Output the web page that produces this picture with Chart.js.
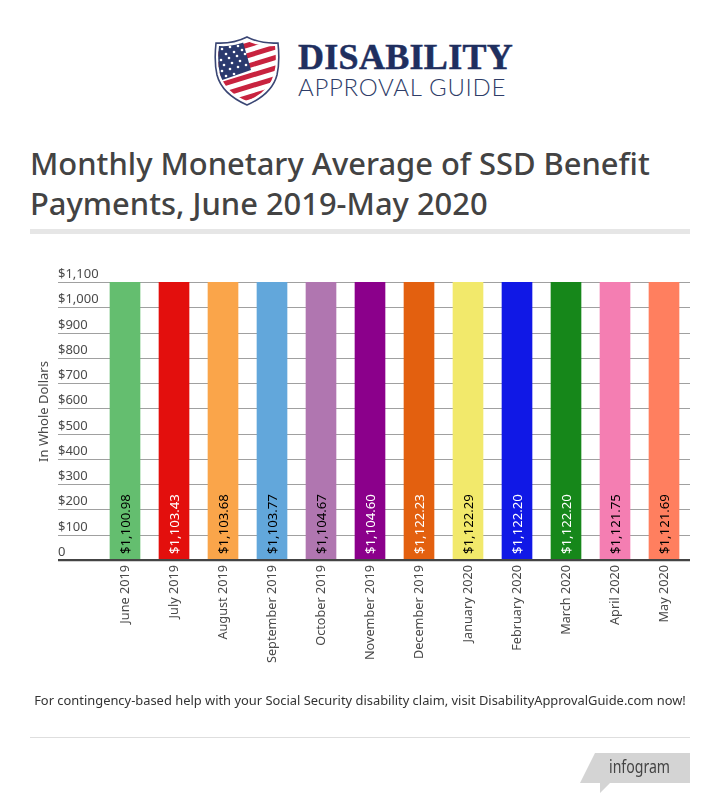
<!DOCTYPE html>
<html>
<head>
<meta charset="utf-8">
<script src="https://cdn.jsdelivr.net/npm/chart.js@4"></script>
<style>
  html, body { margin: 0; padding: 0; background: #fff; }
  body { width: 720px; height: 809px; position: relative; overflow: hidden; font-family: "Noto Sans", sans-serif; }
  #chartWrap { position: absolute; left: 0; top: 0; width: 720px; height: 809px; }
  .abs { position: absolute; }
  #title { left: 30px; top: 143px; width: 660px; font-size: 30.9px; line-height: 40px; font-weight: 500; color: #434343; }
  #titleRule { left: 30px; top: 229px; width: 660px; height: 5px; background: #e6e6e6; }
  #footnote { left: 0; width: 720px; top: 691px; text-align: center; font-size: 12.9px; color: #333; }
  #footRule { left: 30px; top: 737px; width: 660px; height: 1px; background: #dedede; }
</style>
</head>
<body>
<svg class="abs" style="left:0;top:0" width="720" height="130">
  <defs>
    <clipPath id="shield"><path d="M247 41 Q234 47 219 46 Q217 62 220 74 Q225 92 247 101 Q269 92 274 74 Q277 62 275 46 Q260 47 247 41Z"/></clipPath>
  </defs>
  <path d="M247 37 Q233 44 216 43 Q214 62 217 75 Q222 94 247 105 Q272 94 277 75 Q280 62 278 43 Q261 44 247 37Z" fill="#fff" stroke="#3a4674" stroke-width="1.6"/>
  <g clip-path="url(#shield)">
    <g transform="rotate(-17 247 72)" fill="#c8233f">
      <rect x="200" y="44" width="100" height="5"/>
      <rect x="200" y="54" width="100" height="5"/>
      <rect x="200" y="64" width="100" height="5"/>
      <rect x="200" y="74" width="100" height="5"/>
      <rect x="200" y="84" width="100" height="5"/>
      <rect x="200" y="94" width="100" height="5"/>
    </g>
    <path d="M214 42 L243 42 L251 70 L214 83Z" fill="#2b3a6e"/>
    <g fill="#fff">
      <circle cx="222" cy="49" r="1.3"/><circle cx="230" cy="47" r="1.3"/><circle cx="238" cy="46" r="1.3"/>
      <circle cx="226" cy="54" r="1.3"/><circle cx="234" cy="52" r="1.3"/><circle cx="242" cy="50" r="1.3"/>
      <circle cx="221" cy="60" r="1.3"/><circle cx="229" cy="58" r="1.3"/><circle cx="237" cy="56" r="1.3"/><circle cx="245" cy="54" r="1.3"/>
      <circle cx="224" cy="65" r="1.3"/><circle cx="232" cy="63" r="1.3"/><circle cx="240" cy="61" r="1.3"/>
      <circle cx="222" cy="71" r="1.3"/><circle cx="230" cy="69" r="1.3"/><circle cx="238" cy="67" r="1.3"/><circle cx="246" cy="65" r="1.3"/>
      <circle cx="226" cy="76" r="1.3"/><circle cx="234" cy="74" r="1.3"/>
    </g>
  </g>
  <text x="298" y="69" font-family="Liberation Serif" font-weight="700" font-size="36" letter-spacing="0.3" stroke="#1f2f5f" stroke-width="0.5" fill="#1f2f5f">DISABILITY</text>
  <text x="298" y="96" font-family="Lato" font-weight="300" font-size="24" letter-spacing="0.7" fill="#2f3d68">APPROVAL GUIDE</text>
</svg>
<div id="title" class="abs">Monthly Monetary Average of SSD Benefit Payments, June 2019-May 2020</div>
<div id="titleRule" class="abs"></div>
<div id="chartWrap"><canvas id="chart"></canvas></div>
<div id="footnote" class="abs">For contingency-based help with your Social Security disability claim, visit DisabilityApprovalGuide.com now!</div>
<div id="footRule" class="abs"></div>
<svg class="abs" style="left:0;top:740px" width="720" height="69">
  <path d="M580 43 L595 13 L690 13 L690 43 L610 43 L600 53 L600 43Z" fill="#d4d4d4"/>
  <text x="609" y="33" font-family="Noto Sans" font-size="18" textLength="61" lengthAdjust="spacingAndGlyphs" fill="#444">infogram</text>
</svg>
<script>
const months = ['June 2019', 'July 2019', 'August 2019', 'September 2019', 'October 2019', 'November 2019',
  'December 2019', 'January 2020', 'February 2020', 'March 2020', 'April 2020', 'May 2020'];
const payments = [1100.98, 1103.43, 1103.68, 1103.77, 1104.67, 1104.60, 1122.23, 1122.29, 1122.20, 1122.20, 1121.75, 1121.69];
const paymentLabels = ['$1,100.98', '$1,103.43', '$1,103.68', '$1,103.77', '$1,104.67', '$1,104.60',
  '$1,122.23', '$1,122.29', '$1,122.20', '$1,122.20', '$1,121.75', '$1,121.69'];
const barColors = ['#64be6f', '#e30f0d', '#faa54a', '#62a7db', '#b076b0', '#8b008b',
  '#e3600f', '#f2e96b', '#1018e6', '#16871a', '#f47eb2', '#ff7f5f'];
const labelColors = ['#000', '#fff', '#000', '#000', '#000', '#fff', '#fff', '#000', '#fff', '#fff', '#000', '#000'];
const yTickLabels = ['0', '$100', '$200', '$300', '$400', '$500', '$600', '$700', '$800', '$900', '$1,000', '$1,100'];

const fontFamily = '"Noto Sans", sans-serif';

// grid lines run past the plot on the left, tick text sits on top of them
const gridAndTicks = {
  id: 'gridAndTicks',
  beforeDatasetsDraw(chart) {
    const y = chart.scales.y;
    const c = chart.ctx;
    c.save();
    y.ticks.forEach((t, i) => {
      const py = Math.round(y.getPixelForValue(t.value));
      if (i > 0) {
        c.fillStyle = '#a0a0a0';
        c.fillRect(58, py, 632, 1);
      }
      c.fillStyle = '#4a4a4a';
      c.font = '13px ' + fontFamily;
      c.textAlign = 'left';
      c.textBaseline = 'alphabetic';
      c.fillText(yTickLabels[i], 58, py - 4);
    });
    // axis title sits a little above the middle of the plot
    c.translate(44, (chart.chartArea.top + chart.chartArea.bottom) / 2 - 9.5);
    c.rotate(-Math.PI / 2);
    c.font = '13px ' + fontFamily;
    c.textAlign = 'center';
    c.textBaseline = 'middle';
    c.fillText('In Whole Dollars', 0, 0);
    c.restore();
  },
  afterDatasetsDraw(chart) {
    const y = chart.scales.y;
    const c = chart.ctx;
    c.save();
    c.fillStyle = '#d0d0d0';
    c.fillRect(58, Math.round(y.getPixelForValue(0)) + 1, 632, 1);
    c.fillStyle = '#444';
    c.fillRect(58, Math.round(y.getPixelForValue(0)) - 1, 632, 2);
    c.restore();
  }
};

// rotated value text at the foot of each bar
const barText = {
  id: 'barText',
  afterDatasetsDraw(chart) {
    const c = chart.ctx;
    const meta = chart.getDatasetMeta(0);
    const base = chart.scales.y.getPixelForValue(0);
    meta.data.forEach((bar, i) => {
      c.save();
      c.translate(bar.x + 1, base - 6);
      c.rotate(-Math.PI / 2);
      c.font = '13.2px ' + fontFamily;
      c.fillStyle = labelColors[i];
      c.textAlign = 'left';
      c.textBaseline = 'middle';
      c.fillText(paymentLabels[i], 0, 0);
      c.restore();
    });
  }
};

new Chart(document.getElementById('chart'), {
  type: 'bar',
  data: {
    labels: months,
    datasets: [{
      data: payments,
      backgroundColor: barColors,
      barThickness: 30
    }]
  },
  options: {
    responsive: true,
    maintainAspectRatio: false,
    animation: false,
    layout: { padding: { left: 36, right: 31.5, top: 282, bottom: 60 } },
    plugins: { legend: { display: false }, tooltip: { enabled: false } },
    scales: {
      x: {
        grid: { display: false },
        border: { display: false },
        afterFit(scale) { scale.height = 189; },
        ticks: {
          autoSkip: false,
          minRotation: 90,
          maxRotation: 90,
          padding: -3,
          color: '#4a4a4a',
          font: { family: fontFamily, size: 12.7 }
        }
      },
      y: {
        min: 0,
        max: 1100,
        afterFit(scale) { scale.width = 64.5; },
        grid: { display: false },
        border: { display: false },
        ticks: { display: false, stepSize: 100, autoSkip: false }
      }
    }
  },
  plugins: [gridAndTicks, barText]
});
</script>
</body>
</html>
